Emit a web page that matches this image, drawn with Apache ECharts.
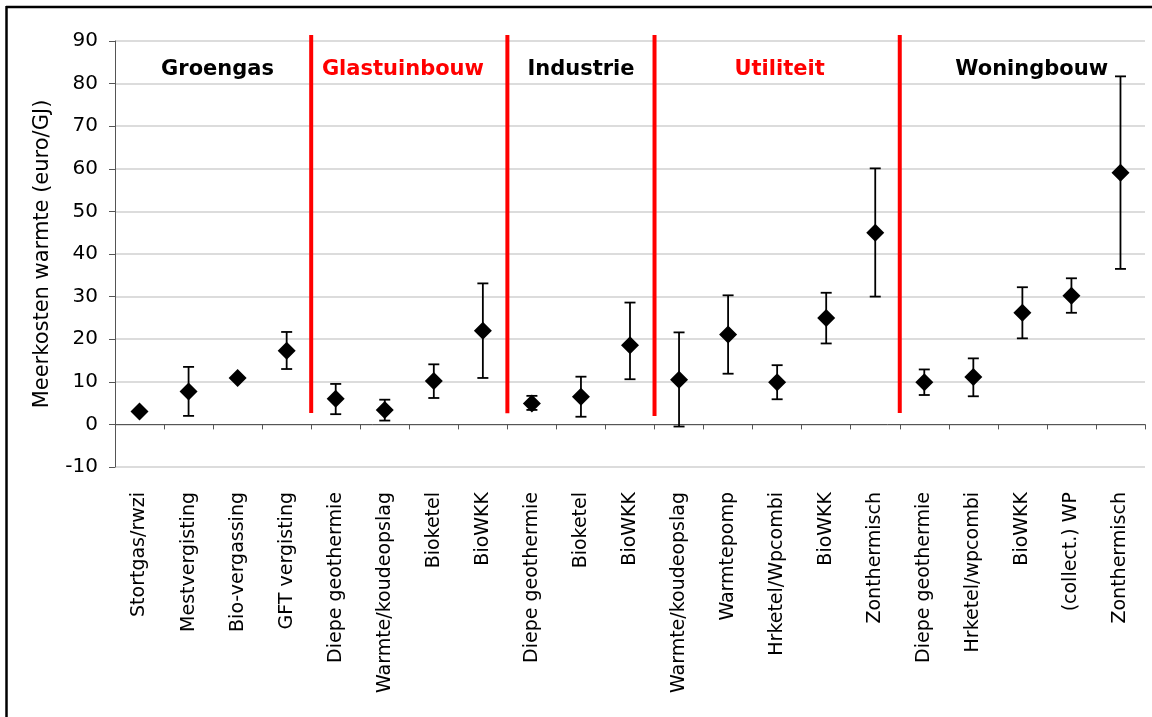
<!DOCTYPE html>
<html>
<head>
<meta charset="utf-8">
<script src="https://cdn.jsdelivr.net/npm/echarts@6/dist/echarts.min.js"></script>
<style>
  html, body { margin: 0; padding: 0; background: #fff; }
  #chart { width: 1152px; height: 717px; }
</style>
</head>
<body>
<div id="chart"></div>
<script>
// categorieen langs de x-as
var categories = ['Stortgas/rwzi', 'Mestvergisting', 'Bio-vergassing', 'GFT vergisting',
  'Diepe geothermie', 'Warmte/koudeopslag', 'Bioketel', 'BioWKK',
  'Diepe geothermie', 'Bioketel', 'BioWKK',
  'Warmte/koudeopslag', 'Warmtepomp', 'Hrketel/Wpcombi', 'BioWKK', 'Zonthermisch',
  'Diepe geothermie', 'Hrketel/wpcombi', 'BioWKK', '(collect.) WP', 'Zonthermisch'];
// meerkosten (euro/GJ) en bandbreedte
var values = [3, 7.7, 10.9, 17.3, 6.0, 3.4, 10.2, 22.0, 4.9, 6.5, 18.6, 10.5, 21.1, 9.9, 25.0, 45.0, 9.9, 11.1, 26.2, 30.2, 59.1];
var lows = [null, 2.0, null, 13.0, 2.4, 0.9, 6.2, 10.9, 3.4, 1.8, 10.6, -0.5, 11.9, 5.9, 19.0, 30.0, 6.9, 6.6, 20.2, 26.2, 36.5];
var highs = [null, 13.5, null, 21.7, 9.5, 5.8, 14.1, 33.1, 6.7, 11.2, 28.6, 21.6, 30.3, 13.9, 30.9, 60.1, 12.9, 15.5, 32.2, 34.3, 81.7];
// sectoren
var sectionNames = ['Groengas', 'Glastuinbouw', 'Industrie', 'Utiliteit', 'Woningbouw'];
var sectionColors = ['#000000', '#ff0000', '#000000', '#ff0000', '#000000'];
var sectionCenters = [2.09, 5.87, 9.5, 13.55, 18.69];
var separators = [4, 8, 11, 16];
var separatorBottoms = [2.7, 2.6, 2.0, 2.7];
var separatorTop = 91.4;
var sectionLabelY = 83.2;

var FONT = 'DejaVu Sans';

var errData = [];
for (var i = 0; i < categories.length; i++) {
  if (lows[i] != null) errData.push([i, lows[i], highs[i]]);
}
var sepData = [];
for (var j = 0; j < separators.length; j++) {
  sepData.push([separators[j], separatorBottoms[j], separatorTop]);
}
var labelData = [];
for (var k = 0; k < sectionNames.length; k++) {
  labelData.push([sectionCenters[k], sectionLabelY, k]);
}

var myChart = echarts.init(document.getElementById('chart'));
myChart.setOption({
  backgroundColor: '#fff',
  animation: false,
  grid: { left: 115, right: 7, top: 41, bottom: 250 },
  xAxis: [{
    type: 'category',
    data: categories,
    boundaryGap: true,
    axisLine: { onZero: true, lineStyle: { color: '#555', width: 1 } },
    axisTick: { show: true, length: 5, lineStyle: { color: '#555' } },
    axisLabel: {
      rotate: 90, interval: 0, margin: 25,
      color: '#000', fontFamily: FONT, fontSize: 19
    },
    splitLine: { show: false }
  }, {
    type: 'value',
    min: 0, max: 21,
    show: false
  }],
  yAxis: {
    type: 'value',
    min: -10, max: 90, interval: 10,
    name: 'Meerkosten warmte (euro/GJ)',
    nameLocation: 'middle',
    nameGap: 62,
    nameTextStyle: { color: '#000', fontFamily: FONT, fontSize: 21 },
    axisLine: { show: true, lineStyle: { color: '#555' } },
    axisTick: { show: true, length: 6, lineStyle: { color: '#555' } },
    axisLabel: { color: '#000', fontFamily: FONT, fontSize: 20, margin: 17 },
    splitLine: { lineStyle: { color: '#d0d0d0', width: 1.5 } }
  },
  graphic: [
    { type: 'line', shape: { x1: 6, y1: 7, x2: 1152, y2: 7 }, style: { stroke: '#000', lineWidth: 2.5 } },
    { type: 'line', shape: { x1: 6.5, y1: 6, x2: 6.5, y2: 717 }, style: { stroke: '#000', lineWidth: 2.5 } }
  ],
  series: [{
    // rode scheidingslijnen
    type: 'custom',
    xAxisIndex: 1,
    clip: false,
    data: sepData,
    renderItem: function (params, api) {
      var p0 = api.coord([api.value(0), api.value(1)]);
      var p1 = api.coord([api.value(0), api.value(2)]);
      return {
        type: 'line',
        shape: { x1: p0[0], y1: p0[1], x2: p1[0], y2: p1[1] },
        style: { stroke: '#ff0000', lineWidth: 4 }
      };
    }
  }, {
    // foutbalken
    type: 'custom',
    xAxisIndex: 0,
    clip: false,
    data: errData,
    renderItem: function (params, api) {
      var lo = api.coord([api.value(0), api.value(1)]);
      var hi = api.coord([api.value(0), api.value(2)]);
      var w = 5.5;
      var st = { stroke: '#000', lineWidth: 1.8 };
      return {
        type: 'group',
        children: [
          { type: 'line', shape: { x1: lo[0], y1: lo[1], x2: hi[0], y2: hi[1] }, style: st },
          { type: 'line', shape: { x1: lo[0] - w, y1: lo[1], x2: lo[0] + w, y2: lo[1] }, style: st },
          { type: 'line', shape: { x1: hi[0] - w, y1: hi[1], x2: hi[0] + w, y2: hi[1] }, style: st }
        ]
      };
    }
  }, {
    type: 'scatter',
    xAxisIndex: 0,
    symbol: 'diamond',
    symbolSize: 18,
    itemStyle: { color: '#000', opacity: 1 },
    data: values,
    z: 5
  }, {
    // sectornamen
    type: 'custom',
    xAxisIndex: 1,
    clip: false,
    data: labelData,
    z: 6,
    renderItem: function (params, api) {
      var p = api.coord([api.value(0), api.value(1)]);
      var idx = api.value(2);
      return {
        type: 'text',
        x: p[0], y: p[1],
        style: {
          text: sectionNames[idx],
          fill: sectionColors[idx],
          font: 'bold 21px "DejaVu Sans"',
          textAlign: 'center',
          textVerticalAlign: 'middle'
        }
      };
    }
  }]
});
</script>
</body>
</html>
